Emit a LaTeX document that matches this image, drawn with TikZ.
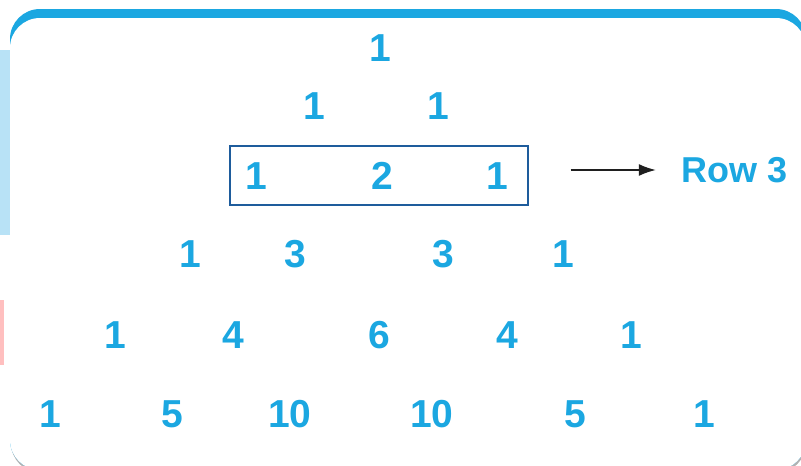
\documentclass[tikz,border=0pt]{standalone}
\usepackage{fontspec}
\setmainfont{Liberation Sans}
\usetikzlibrary{arrows.meta, positioning}
\definecolor{numblue}{HTML}{1BA7E1}
\definecolor{boxblue}{HTML}{1E5C9C}
\definecolor{paleblue}{HTML}{B8E2F6}
\tikzset{
  entry/.style={font=\fontsize{39}{41}\selectfont\bfseries, text=numblue, inner sep=0pt},
  rowbox/.style={draw=boxblue, line width=2pt, minimum width=298pt, minimum height=59pt, inner sep=0pt},
  rowlabel/.style={font=\fontsize{36}{38}\selectfont\bfseries, text=numblue, inner sep=0pt},
  pointer/.style={-{Latex[length=17pt, width=12pt]}, line width=1.5pt, black!88},
}

\begin{document}
\begin{tikzpicture}[x=1pt, y=-1pt]
  \useasboundingbox (0,0) rectangle (801,466);
  % page behind the card
  \fill[paleblue] (0,50) rectangle (10,235);
  \fill[red!25] (0,300) rectangle (4,365);
  % card with its blue top edge
  \fill[black!30, rounded corners=30pt] (11,12) rectangle (806,473);
  \fill[numblue, rounded corners=30pt] (10,9) rectangle (806,470);
  \fill[white, rounded corners=30pt] (10,18) rectangle (806,470);

  \node[entry] (r0a) at (380,48) {1};

  \node[entry] (r1a) at (314,106) {1};
  \node[entry] (r1b) at (438,106) {1};

  \node[entry] (r2a) at (256,176) {1};
  \node[entry] (r2b) at (382,176) {2};
  \node[entry] (r2c) at (497,176) {1};

  \node[entry] (r3a) at (190,254) {1};
  \node[entry] (r3b) at (295,254) {3};
  \node[entry] (r3c) at (443,254) {3};
  \node[entry] (r3d) at (563,254) {1};

  \node[entry] (r4a) at (115,335) {1};
  \node[entry] (r4b) at (233,335) {4};
  \node[entry] (r4c) at (379,335) {6};
  \node[entry] (r4d) at (507,335) {4};
  \node[entry] (r4e) at (631,335) {1};

  \node[entry] (r5a) at (50,414) {1};
  \node[entry] (r5b) at (172,414) {5};
  \node[entry] (r5c) at (290,414) {10};
  \node[entry] (r5d) at (432,414) {10};
  \node[entry] (r5e) at (575,414) {5};
  \node[entry] (r5f) at (704,414) {1};

  \node[rowbox] (rowthree) at (378.5,175.5) {};
  \node[rowlabel] (label) at (735,170) {Row 3};
  \draw[pointer, shorten <=42pt, shorten >=26pt] (rowthree.east |- label) -- (label);
\end{tikzpicture}
\end{document}
